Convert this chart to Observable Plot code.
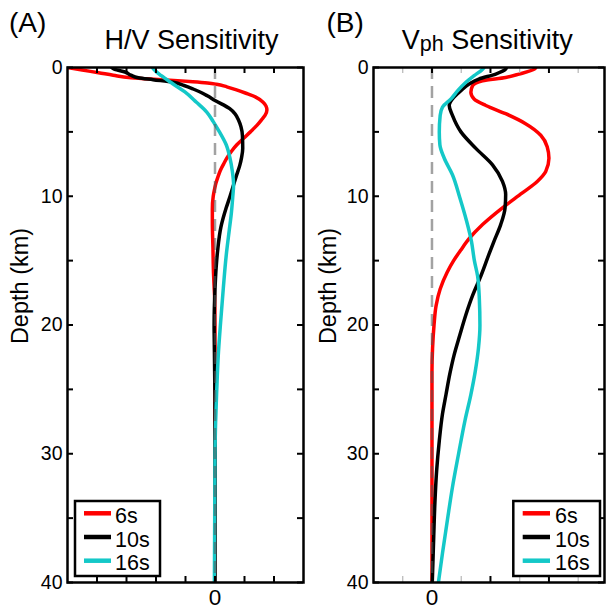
<!DOCTYPE html>
<html><head><meta charset="utf-8">
<script src="https://cdn.jsdelivr.net/npm/d3@7"></script>
<script src="https://cdn.jsdelivr.net/npm/@observablehq/plot@0.6"></script>
<style>
html,body{margin:0;padding:0;background:#fff;}
#wrap{position:relative;width:606px;height:611px;overflow:hidden;font-family:"Liberation Sans",Arial,Helvetica,sans-serif;}
#wrap > div{position:absolute;top:0;}
</style></head>
<body><div id="wrap"><div id="pa" style="left:0px"></div><div id="pb" style="left:300px"></div></div>
<script>
// ---- legend / series ----
const periods = ["6s", "10s", "16s"];
const colors = ["#ff0000", "#000000", "#14c8c8"];

// ---- (A) H/V sensitivity ----
const hvDepth6 = [0,0.2,0.4,0.6,0.8,0.9,1.0,1.1,1.2,1.3,1.5,1.7,2.0,2.3,2.7,3.0,3.3,3.7,4.0,4.5,5.0,5.5,6.0,6.5,7.0,7.5,8.0,8.5,9.0,9.5,10,11,12,14,16,17,18,20,30,40];
const hvVal6   = [-5.0,-4.5,-3.95,-3.45,-2.85,-2.2,-1.4,-0.75,-0.25,0.05,0.4,0.68,1.05,1.38,1.63,1.73,1.76,1.7,1.6,1.42,1.2,0.97,0.74,0.56,0.41,0.29,0.18,0.1,0.03,-0.02,-0.06,-0.09,-0.09,-0.07,-0.05,-0.03,-0.01,0,0,0];
const hvDepth10 = [0,0.15,0.35,0.6,0.8,0.95,1.15,1.4,1.67,2.0,2.2,2.56,3.2,3.6,4.1,4.6,5.3,6.3,7.0,7.6,8.3,9.1,10,10.9,12.4,14.2,15.5,17.2,18.5,20,22,24,26,30,40];
const hvVal10   = [-3.5,-3.4,-3.05,-2.85,-2.6,-2.1,-1.42,-1.05,-0.74,-0.42,-0.26,0,0.5,0.68,0.8,0.88,0.93,0.94,0.9,0.84,0.74,0.63,0.51,0.38,0.2,0.09,0.04,0.0,-0.02,-0.03,-0.02,-0.01,0,0,0];
const hvDepth16 = [0,0.13,0.64,1.28,1.9,2.7,3.46,4.2,5.0,6.0,7.05,8.1,9.1,10.1,11.4,12.7,14.6,17.2,19.8,22.4,25,27.6,30,35,40];
const hvVal16   = [-2.12,-2.08,-1.82,-1.42,-1.02,-0.63,-0.28,-0.06,0.15,0.38,0.51,0.59,0.63,0.6,0.55,0.48,0.38,0.28,0.19,0.11,0.06,0.02,0.0,-0.01,-0.02];

// ---- (B) Vph sensitivity ----
const vpDepth6 = [0,0.13,0.51,0.77,1.03,1.41,1.92,2.44,2.95,3.59,4.36,5.26,6.15,7.05,8.08,8.85,9.74,10.9,12.2,13.3,14.2,15.0,15.9,17.2,18.5,20,21.8,23.6,30,40];
const vpVal6   = [3.55,3.5,2.98,2.52,1.73,1.39,1.33,1.44,1.84,2.52,3.2,3.72,3.94,4.0,3.89,3.6,3.09,2.41,1.73,1.27,0.98,0.74,0.52,0.28,0.14,0.07,0.02,0,0,0];
const vpDepth10 = [0,0.13,0.51,0.9,1.28,1.8,2.44,2.95,3.72,5.0,6.28,7.56,8.85,9.87,10.9,12.2,13.5,14.5,16.2,17.7,19.2,20.8,22.3,23.8,25.4,26.9,29,31.3,33.8,36.4,40];
const vpVal10   = [2.55,2.52,2.18,1.6,1.27,0.99,0.7,0.59,0.7,0.99,1.5,2.07,2.41,2.52,2.5,2.35,2.12,1.95,1.67,1.39,1.16,0.95,0.76,0.61,0.48,0.36,0.25,0.16,0.1,0.06,0.01];
const vpDepth16 = [0,0.13,0.64,1.15,1.8,2.44,3.08,3.72,5.0,6.0,7.05,8.33,10.1,11.9,13.5,15,16.2,18,20,21.8,23.6,25.4,27.4,30,32.6,35.1,37.7,40];
const vpVal16   = [1.78,1.73,1.44,1.16,0.88,0.65,0.36,0.28,0.25,0.27,0.42,0.7,0.95,1.18,1.35,1.45,1.56,1.62,1.64,1.59,1.48,1.33,1.13,0.91,0.7,0.53,0.36,0.22];

// ---- axes ----
const depthTicks = [0,5,10,15,20,25,30,35,40];
const depthLabels = [0,10,20,30,40];
const hvTicks = [-4,-3,-2,-1,0,1,2];
const vpMajorTicks = [0,2,4];
const vpMinorTicks = [-1,1,3,5];
const xLabels = [0];

const FONT = '"Liberation Sans", Arial, Helvetica, sans-serif';

function rows(depths, values, period) {
  return depths.map((d, i) => ({depth: d, value: values[i], period}));
}
const hvRows = [...rows(hvDepth6, hvVal6, "6s"), ...rows(hvDepth10, hvVal10, "10s"), ...rows(hvDepth16, hvVal16, "16s")];
const vpRows = [...rows(vpDepth6, vpVal6, "6s"), ...rows(vpDepth10, vpVal10, "10s"), ...rows(vpDepth16, vpVal16, "16s")];

function panel({data, width, marginLeft, marginRight, xDomain, majorTicks, minorTicks}) {
  const H = 611, mt = 67, mb = 29;
  const pw = width - marginLeft - marginRight;
  const ph = H - mt - mb;
  return Plot.plot({
    width, height: H, marginLeft, marginRight, marginTop: mt, marginBottom: mb,
    style: {fontFamily: FONT, background: "transparent", color: "black", overflow: "visible"},
    x: {domain: xDomain},
    y: {domain: [0, 40], reverse: true},
    color: {domain: periods, range: colors},
    marks: [
      Plot.line(data, {x: "value", y: "depth", z: "period", stroke: "period", strokeWidth: 3.5, curve: "monotone-y", clip: true}),
      Plot.ruleX([0], {stroke: "#555", strokeOpacity: 0.55, strokeWidth: 2.5, strokeDasharray: "12,7"}),
      // inward depth ticks (left and right)
      Plot.tickY(depthTicks, {y: d => d, insetRight: pw - 6, stroke: "black", strokeWidth: 2}),
      Plot.tickY(depthTicks, {y: d => d, insetLeft: pw - 6, stroke: "black", strokeWidth: 2}),
      // inward x ticks (top and bottom)
      Plot.tickX(majorTicks, {x: d => d, insetBottom: ph - 6, stroke: "black", strokeWidth: 2}),
      Plot.tickX(majorTicks, {x: d => d, insetTop: ph - 6, stroke: "black", strokeWidth: 2}),
      Plot.tickX(minorTicks, {x: d => d, insetBottom: ph - 6, stroke: "#b5b5b5", strokeWidth: 1.2}),
      Plot.tickX(minorTicks, {x: d => d, insetTop: ph - 6, stroke: "#b5b5b5", strokeWidth: 1.2}),
      Plot.axisY(depthLabels, {tickSize: 0, tickPadding: 5, fontSize: 19.5, label: null}),
      Plot.axisX(xLabels, {tickSize: 0, tickPadding: 7, fontSize: 22.5, label: null}),
      Plot.frame({stroke: "black", strokeWidth: 2.5})
    ]
  });
}

function addText(svg, x, y, txt, size, anchor = "start", rotate = false) {
  const t = d3.select(svg).append("text")
    .attr("font-family", FONT).attr("font-size", size).attr("fill", "black")
    .attr("text-anchor", anchor).text(txt);
  if (rotate) t.attr("transform", `translate(${x},${y}) rotate(-90)`);
  else t.attr("x", x).attr("y", y);
  return t;
}

function addLegend(svg, x0, y0, w, h, lx1, lx2, tx) {
  const g = d3.select(svg).append("g");
  g.append("rect").attr("x", x0).attr("y", y0).attr("width", w).attr("height", h)
    .attr("fill", "white").attr("stroke", "black").attr("stroke-width", 2.5);
  periods.forEach((p, i) => {
    const ly = y0 + 12.3 + i * 23.7;
    g.append("line").attr("x1", lx1).attr("x2", lx2).attr("y1", ly).attr("y2", ly)
      .attr("stroke", colors[i]).attr("stroke-width", 4.5);
    g.append("text").attr("x", tx).attr("y", ly + 9.5).attr("font-family", FONT)
      .attr("font-size", 21.5).attr("fill", "black").attr("text-anchor", "start").text(p);
  });
}

// Panel A
const svgA = panel({data: hvRows, width: 310, marginLeft: 67, marginRight: 7, xDomain: [-5, 3], majorTicks: hvTicks, minorTicks: []});
addText(svgA, 191.5, 49, "H/V Sensitivity", 27, "middle");
addText(svgA, 9, 32, "(A)", 28);
addText(svgA, 28, 286, "Depth (km)", 23.5, "middle", true);
addLegend(svgA, 75, 501, 85, 75, 84, 111, 115);
document.getElementById("pa").appendChild(svgA);

// Panel B
const svgB = panel({data: vpRows, width: 306, marginLeft: 73, marginRight: 2, xDomain: [-2, 5.9], majorTicks: vpMajorTicks, minorTicks: vpMinorTicks});
const tB = d3.select(svgB).append("text").attr("x", 101.7).attr("y", 49).attr("text-anchor", "start")
  .attr("font-family", FONT).attr("font-size", 27).attr("fill", "black");
tB.append("tspan").text("V");
tB.append("tspan").attr("font-size", 21.5).attr("dy", 2).text("ph");
tB.append("tspan").attr("dy", -2).text(" Sensitivity");
addText(svgB, 26.5, 32, "(B)", 28);
addText(svgB, 36, 286, "Depth (km)", 23.5, "middle", true);
addLegend(svgB, 213.3, 501, 86.7, 75, 222.7, 250, 255);
document.getElementById("pb").appendChild(svgB);
</script>
</body></html>
